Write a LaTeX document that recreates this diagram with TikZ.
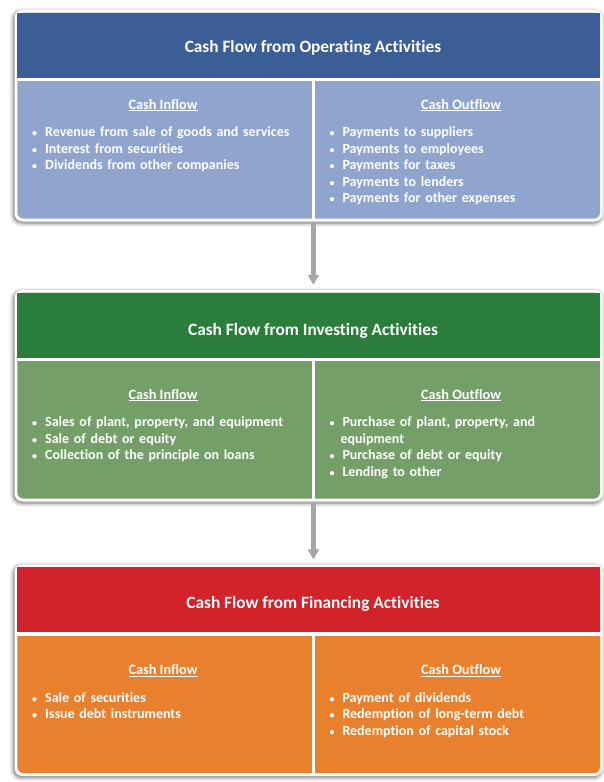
\documentclass[tikz,border=0pt]{standalone}
\usepackage{fontspec}
\setmainfont{Carlito}[Ligatures=NoCommon]
\usetikzlibrary{arrows.meta, shadows.blur}

\definecolor{opdark}{HTML}{3C5E96}
\definecolor{opbody}{HTML}{8FA5CE}
\definecolor{invdark}{HTML}{2A7D3B}
\definecolor{invbody}{HTML}{759F69}
\definecolor{findark}{HTML}{D2232B}
\definecolor{finbody}{HTML}{E8802D}
\definecolor{flowgray}{HTML}{A6A6A6}

\newcommand{\bul}{\leavevmode\llap{{\fontsize{10}{10}\selectfont\textbullet}\hspace{8pt}}}

\begin{document}
\begin{tikzpicture}[x=1pt, y=-1pt,
  blockframe/.style={fill=white, rounded corners=8pt, minimum width=588pt,
    minimum height=211.5pt, inner sep=0pt,
    blur shadow={shadow xshift=-1pt, shadow yshift=-1.5pt,
      shadow blur radius=4pt, shadow opacity=60}},
  bodyfill/.style={rounded corners=6pt, minimum width=582.7pt,
    minimum height=206pt, inner sep=0pt},
  headbar/.style={minimum width=582.7pt, minimum height=65.2pt, inner sep=0pt},
  title/.style={text=white, font=\fontsize{17.3}{20}\selectfont\bfseries, anchor=base},
  colhead/.style={text=white, font=\fontsize{14.3}{16.5}\selectfont\bfseries, anchor=base},
  items/.style={text=white, font=\fontsize{14}{16.5}\selectfont\bfseries,
    anchor=base west, text width=262pt, align=left, inner sep=0pt},
  split/.style={draw=white, line width=3.3pt},
  flow/.style={-{Triangle[width=11pt,length=10pt]}, line width=4.5pt,
    draw=flowgray, shorten >=5pt, shorten <=1pt},
]
\useasboundingbox (0,0) rectangle (603,782);

% operating
\node[blockframe] (opframe) at (308.5,115.75) {};
\node[bodyfill, fill=opbody] (opbody) at (308.65,115.5) {};
\node[headbar, fill=opdark] (ophead) at (308.65,45.1) {};
\coordinate (opmid) at (313.4,81);
\draw[split] ([yshift=-1.65pt]ophead.south west) -- ([yshift=-1.65pt]ophead.south east);
\draw[split] (opmid) -- (opmid |- opbody.south);
\node[title] (optitle) at (313,52.7) {Cash Flow from Operating Activities};
\node[colhead] (opinhead) at (163,109) {\underline{Cash Inflow}};
\node[colhead] (opouthead) at (461,109) {\underline{Cash Outflow}};
\node[items] (opin) at (45,136.5) {\bul Revenue from sale of goods and services\\
  \bul Interest from securities\\
  \bul Dividends from other companies};
\node[items] (opout) at (342.3,136.5) {\bul Payments to suppliers\\
  \bul Payments to employees\\
  \bul Payments for taxes\\
  \bul Payments to lenders\\
  \bul Payments for other expenses};

% investing
\node[blockframe] (invframe) at (308.5,395.75) {};
\node[bodyfill, fill=invbody] (invbody) at (308.65,395.5) {};
\node[headbar, fill=invdark] (invhead) at (308.65,325.1) {};
\coordinate (invmid) at (313.4,361);
\draw[split] ([yshift=-1.65pt]invhead.south west) -- ([yshift=-1.65pt]invhead.south east);
\draw[split] (invmid) -- (invmid |- invbody.south);
\node[title] (invtitle) at (313,335) {Cash Flow from Investing Activities};
\node[colhead] (invinhead) at (163,399) {\underline{Cash Inflow}};
\node[colhead] (invouthead) at (461,399) {\underline{Cash Outflow}};
\node[items] (invin) at (45,426.7) {\bul Sales of plant, property, and equipment\\
  \bul Sale of debt or equity\\
  \bul Collection of the principle on loans};
\node[items] (invout) at (342.3,426.7) {\bul Purchase of plant, property, and\\
  \leavevmode\hspace*{-2pt}equipment\\
  \bul Purchase of debt or equity\\
  \bul Lending to other};

% financing
\node[blockframe] (finframe) at (308.5,670.25) {};
\node[bodyfill, fill=finbody] (finbody) at (308.65,670) {};
\node[headbar, fill=findark] (finhead) at (308.65,599.6) {};
\coordinate (finmid) at (313.4,635.5);
\draw[split] ([yshift=-1.65pt]finhead.south west) -- ([yshift=-1.65pt]finhead.south east);
\draw[split] (finmid) -- (finmid |- finbody.south);
\node[title] (fintitle) at (313,608.3) {Cash Flow from Financing Activities};
\node[colhead] (fininhead) at (163,674.3) {\underline{Cash Inflow}};
\node[colhead] (finouthead) at (461,674.3) {\underline{Cash Outflow}};
\node[items] (finin) at (45,702.3) {\bul Sale of securities\\
  \bul Issue debt instruments};
\node[items] (finout) at (342.3,702.3) {\bul Payment of dividends\\
  \bul Redemption of long-term debt\\
  \bul Redemption of capital stock};

\draw[flow] (opframe.south -| opmid) -- (invframe.north -| opmid);
\draw[flow] (invframe.south -| invmid) -- (finframe.north -| invmid);
\end{tikzpicture}
\end{document}
